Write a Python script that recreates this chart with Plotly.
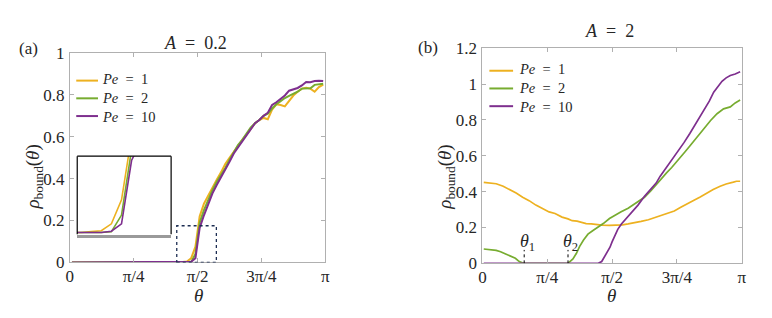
import math
import plotly.graph_objects as go

W, H = 772, 318
PI = math.pi

# ---------------- data ----------------
# panel (a), A = 0.2 : theta in units of pi (shared grid)
theta_a_frac = [0.0083, 0.2, 0.4,
                0.425, 0.4417, 0.4583, 0.475, 0.4917,
                0.5083, 0.525, 0.5417, 0.5583, 0.575, 0.5917, 0.6083, 0.625, 0.6417, 0.6583,
                0.675, 0.6917, 0.7083, 0.725, 0.7417, 0.7583, 0.775, 0.7917, 0.8083, 0.825,
                0.8417, 0.8583, 0.875, 0.8917, 0.9083, 0.925, 0.9417, 0.9583, 0.975, 0.9917]
rho_a_pe1 = [0, 0, 0,
             0, 0.002, 0.004, 0.02, 0.075,
             0.22, 0.28, 0.32, 0.36, 0.395, 0.43, 0.47, 0.50, 0.53, 0.56,
             0.585, 0.61, 0.64, 0.665, 0.68, 0.69, 0.684, 0.73, 0.755, 0.752,
             0.745, 0.77, 0.797, 0.815, 0.83, 0.834, 0.83, 0.815, 0.837, 0.849]
rho_a_pe2 = [0, 0, 0,
             0, 0, 0, 0.002, 0.04,
             0.19, 0.25, 0.30, 0.345, 0.385, 0.415, 0.45, 0.49, 0.525, 0.56,
             0.585, 0.615, 0.645, 0.665, 0.68, 0.70, 0.71, 0.735, 0.755, 0.77,
             0.785, 0.795, 0.805, 0.815, 0.83, 0.83, 0.832, 0.848, 0.851, 0.853]
rho_a_pe10 = [0, 0, 0,
              0, 0, 0, 0.003, 0.02,
              0.165, 0.225, 0.275, 0.33, 0.37, 0.405, 0.445, 0.48, 0.52, 0.55,
              0.58, 0.61, 0.64, 0.665, 0.68, 0.70, 0.715, 0.752, 0.765, 0.78,
              0.797, 0.82, 0.827, 0.833, 0.845, 0.862, 0.86, 0.866, 0.868, 0.866]

# panel (b), A = 2 : theta in units of pi (per series)
theta_b_pe1 = [0.005, 0.03, 0.053, 0.08, 0.104, 0.13, 0.155, 0.18, 0.206, 0.235, 0.257, 0.28,
               0.307, 0.33, 0.346, 0.365, 0.384, 0.40, 0.42, 0.46, 0.49, 0.511, 0.54, 0.562,
               0.587, 0.612, 0.64, 0.663, 0.69, 0.714, 0.74, 0.765, 0.79, 0.816, 0.84, 0.867,
               0.89, 0.917, 0.94, 0.968, 0.98, 0.994]
rho_b_pe1 = [0.452, 0.450, 0.444, 0.430, 0.413, 0.392, 0.369, 0.350, 0.325, 0.305, 0.287, 0.278,
             0.258, 0.248, 0.238, 0.236, 0.229, 0.222, 0.220, 0.213, 0.212, 0.212, 0.215, 0.220,
             0.229, 0.234, 0.243, 0.255, 0.266, 0.280, 0.292, 0.313, 0.334, 0.352, 0.370, 0.393,
             0.412, 0.430, 0.443, 0.453, 0.458, 0.458]
theta_b_pe2 = [0.005, 0.03, 0.053, 0.07, 0.089, 0.11, 0.127, 0.142, 0.159, 0.33, 0.349, 0.362,
               0.375, 0.39, 0.407, 0.425, 0.445, 0.466, 0.49, 0.511, 0.535, 0.562, 0.59, 0.625,
               0.65, 0.67, 0.689, 0.71, 0.73, 0.752, 0.78, 0.80, 0.816, 0.85, 0.88, 0.905,
               0.93, 0.956, 0.975, 0.994]
rho_b_pe2 = [0.080, 0.077, 0.072, 0.065, 0.054, 0.040, 0.028, 0.010, 0.0, 0.0, 0.025, 0.055,
             0.095, 0.13, 0.163, 0.182, 0.200, 0.222, 0.250, 0.270, 0.288, 0.308, 0.335, 0.369,
             0.405, 0.44, 0.474, 0.505, 0.535, 0.570, 0.62, 0.655, 0.684, 0.745, 0.797, 0.835,
             0.862, 0.873, 0.895, 0.911]
theta_b_pe10 = [0.005, 0.447, 0.46, 0.47, 0.48, 0.492, 0.50, 0.511, 0.522, 0.536, 0.555, 0.575,
                0.60, 0.625, 0.65, 0.670, 0.685, 0.701, 0.72, 0.74, 0.76, 0.778, 0.80, 0.816,
                0.835, 0.854, 0.875, 0.892, 0.91, 0.924, 0.94, 0.956, 0.975, 0.994]
rho_b_pe10 = [0, 0, 0.01, 0.035, 0.06, 0.09, 0.12, 0.159, 0.19, 0.220, 0.250, 0.282,
              0.325, 0.374, 0.415, 0.448, 0.485, 0.518, 0.557, 0.596, 0.635, 0.675, 0.725, 0.762,
              0.805, 0.85, 0.905, 0.955, 0.988, 1.016, 1.035, 1.048, 1.057, 1.069]

# dashed markers theta_1, theta_2 (units of pi)
theta_marks = [0.161, 0.330]
theta_mark_labels = ["<i>θ</i><sub>1</sub>", "<i>θ</i><sub>2</sub>"]

series_names = ["<i>Pe</i>\u2002=\u20021", "<i>Pe</i>\u2002=\u20022", "<i>Pe</i>\u2002=\u200210"]
colors = ["#EDB120", "#77AC30", "#7E2F8E"]

xtick_vals = [0, PI / 4, PI / 2, 3 * PI / 4, PI]
xtick_text = ["0", "π/4", "π/2", "3π/4", "π"]
ytick_a = [0, 0.2, 0.4, 0.6, 0.8, 1.0]
ytick_a_text = ["0", "0.2", "0.4", "0.6", "0.8", "1"]
ytick_b = [0, 0.2, 0.4, 0.6, 0.8, 1.0, 1.2]
ytick_b_text = ["0", "0.2", "0.4", "0.6", "0.8", "1", "1.2"]

# zoom window shown in the inset (theta, rho)
zoom_x = [1.315, 1.802]
zoom_y = [0.0, 0.175]

# ---------------- figure ----------------
def px(x):
    return x / W

def py(y):
    return 1 - y / H

FONT = "Liberation Serif, serif"
TXT = "#262626"
AX = "#b0b0b0"

fig = go.Figure()

ta = [f * PI for f in theta_a_frac]
for rho, c in zip([rho_a_pe1, rho_a_pe2, rho_a_pe10], colors):
    fig.add_trace(go.Scatter(x=ta, y=rho, mode="lines", line=dict(color=c, width=2),
                             xaxis="x", yaxis="y", showlegend=False, hoverinfo="skip"))
for rho, c in zip([rho_a_pe1, rho_a_pe2, rho_a_pe10], colors):
    fig.add_trace(go.Scatter(x=ta, y=rho, mode="lines", line=dict(color=c, width=1.6),
                             xaxis="x3", yaxis="y3", showlegend=False, hoverinfo="skip"))
for th, rho, c in zip([theta_b_pe1, theta_b_pe2, theta_b_pe10],
                      [rho_b_pe1, rho_b_pe2, rho_b_pe10], colors):
    fig.add_trace(go.Scatter(x=[f * PI for f in th], y=rho, mode="lines",
                             line=dict(color=c, width=1.7),
                             xaxis="x2", yaxis="y2", showlegend=False, hoverinfo="skip"))

axcommon = dict(showline=True, linecolor=AX, linewidth=1, mirror="ticks", ticks="inside",
                ticklen=4, tickcolor=AX, showgrid=False, zeroline=False,
                tickfont=dict(family=FONT, size=17, color=TXT))

fig.update_layout(
    width=W, height=H, autosize=False,
    margin=dict(l=0, r=0, t=0, b=0),
    paper_bgcolor="white", plot_bgcolor="white",
    showlegend=False,
    xaxis=dict(domain=[px(58.5), px(317)], range=[0, PI], tickvals=xtick_vals,
               ticktext=xtick_text, anchor="y", ticklabelstandoff=-2, **axcommon),
    yaxis=dict(domain=[py(261), py(38.3)], range=[0, 1], tickvals=ytick_a,
               ticktext=ytick_a_text, anchor="x", ticklabelstandoff=1, **axcommon),
    xaxis2=dict(domain=[px(476), px(738.3)], range=[0, PI], tickvals=xtick_vals,
                ticktext=xtick_text, anchor="y2", ticklabelstandoff=-2, **axcommon),
    yaxis2=dict(domain=[py(262), py(33.3)], range=[0, 1.2], tickvals=ytick_b,
                ticktext=ytick_b_text, anchor="x2", ticklabelstandoff=1, **axcommon),
    xaxis3=dict(domain=[px(66), px(161)], range=zoom_x, anchor="y3", showline=True,
                linecolor="#9a9a9a", linewidth=2.5, showticklabels=False, ticks="",
                showgrid=False, zeroline=False),
    yaxis3=dict(domain=[py(232), py(148)], range=[-0.006, zoom_y[1]], anchor="x3",
                showline=False, showticklabels=False, ticks="", showgrid=False,
                zeroline=False),
)

shapes = []
# inset black frame (left, top, right)
for (x0, y0, x1, y1) in [(66, 148, 66, 231), (66, 148, 161, 148), (161, 148, 161, 231)]:
    shapes.append(dict(type="line", xref="paper", yref="paper", x0=px(x0), y0=py(y0),
                       x1=px(x1), y1=py(y1), line=dict(color="black", width=1.2)))
# dotted zoom window on panel (a)
shapes.append(dict(type="rect", xref="x", yref="y", x0=zoom_x[0], x1=zoom_x[1],
                   y0=zoom_y[0], y1=zoom_y[1], line=dict(color="#1c2d52", width=1.3, dash="dot")))
# theta markers on panel (b)
for f in theta_marks:
    shapes.append(dict(type="line", xref="x2", yref="y2", x0=f * PI, x1=f * PI, y0=0, y1=0.075,
                       line=dict(color="black", width=1, dash="dot")))

# manual legends (one multi-line text block per panel)
LEG_FS = 14.5
LEG_DY = 1.3 * LEG_FS
legends = [(86.5, 65, 87, 89), (76, 483, 507, 511)]
for yc, x0, x1, xt in legends:
    for i, c in enumerate(colors):
        yy = yc + (i - 1) * LEG_DY
        shapes.append(dict(type="line", xref="paper", yref="paper", x0=px(x0), x1=px(x1),
                           y0=py(yy), y1=py(yy), line=dict(color=c, width=2)))
fig.update_layout(shapes=shapes)

ann = []
def text(x, y, s, size=15, xanchor="center", angle=0, align="center"):
    ann.append(dict(x=px(x), y=py(y), xref="paper", yref="paper", text=s, showarrow=False,
                    xanchor=xanchor, yanchor="middle", textangle=angle, align=align,
                    font=dict(family=FONT, size=size, color=TXT)))

for yc, x0, x1, xt in legends:
    text(xt, yc, "<br>".join(series_names), size=LEG_FS, xanchor="left", align="left")

text(186, 28, "<i>A</i>\u2002=\u20020.2", size=18)
text(605, 15, "<i>A</i>\u2002=\u20022", size=18)
text(17, 33, "(a)", size=17)
text(421, 32, "(b)", size=17)
text(22, 170, "<i>ρ</i><sub>bound</sub>(<i>θ</i>)", size=19, angle=-90)
text(439, 170, "<i>ρ</i><sub>bound</sub>(<i>θ</i>)", size=19, angle=-90)
text(189, 296, "<i>θ</i>", size=19)
text(607, 296, "<i>θ</i>", size=19)
for f, lab in zip(theta_marks, theta_mark_labels):
    text(476 + f * 262.3 + 3, 240, lab, size=18)
fig.update_layout(annotations=ann)

fig.write_html("out.html")
